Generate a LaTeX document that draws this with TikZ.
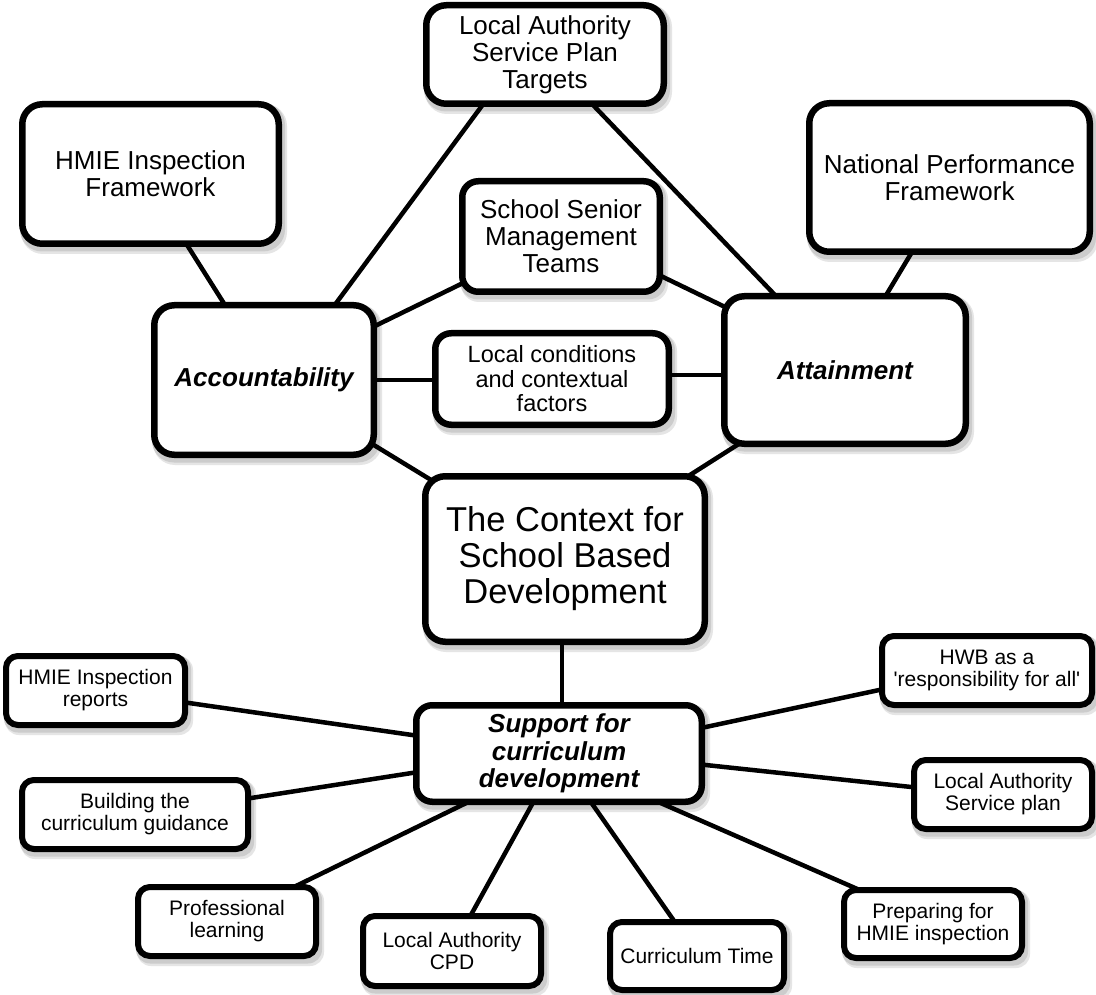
\documentclass[tikz,border=0pt]{standalone}
\usepackage{fontspec}
\newfontfamily\diagfont{Liberation Sans}
\usetikzlibrary{calc}
\pgfdeclarelayer{shadowlayer}
\pgfdeclarelayer{linelayer}
\pgfsetlayers{shadowlayer,linelayer,main}

\tikzset{
  box/.style={draw=black, fill=white, line width=6.5pt, inner sep=0pt, align=center},
  bigbox/.style={box, rounded corners=20pt},
  midbox/.style={box, rounded corners=16pt},
  smallbox/.style={box, line width=6pt, rounded corners=12pt},
  fbig/.style={font=\diagfont\fontsize{26}{27}\selectfont},
  fmid/.style={font=\diagfont\fontsize{23.5}{24.5}\selectfont},
  fsmall/.style={font=\diagfont\fontsize{21}{22}\selectfont},
  fhuge/.style={font=\diagfont\fontsize{34.5}{36}\selectfont},
  fkey/.style={font=\diagfont\bfseries\itshape\fontsize{26}{27.5}\selectfont},
  conn/.style={draw=black, line width=4.5pt},
  shade1/.style={fill=black!10},
  shade2/.style={fill=black!20},
}

\begin{document}
\begin{tikzpicture}[x=1pt, y=-1pt]
\useasboundingbox (0,0) rectangle (1096,995);

% ---- boxes ----
\node[bigbox, fbig, minimum width=237.5pt, minimum height=98.5pt] (lat) at (545,54.5)
  {Local Authority\\Service Plan\\Targets};
\node[bigbox, fbig, minimum width=256.5pt, minimum height=139.5pt] (hfw) at (150.5,174)
  {HMIE Inspection\\Framework};
\node[bigbox, fbig, minimum width=280.5pt, minimum height=148.5pt] (npf) at (949.5,177.5)
  {National Performance\\Framework};
\node[midbox, fbig, minimum width=197.5pt, minimum height=110.5pt] (ssm) at (561,236.5)
  {School Senior\\Management\\Teams};
\node[bigbox, fkey, minimum width=219.5pt, minimum height=149.5pt] (acc) at (264,380)
  {Accountability};
\node[midbox, fmid, minimum width=233.5pt, minimum height=91.5pt] (loc) at (552,379)
  {Local conditions\\and contextual\\factors};
\node[bigbox, fkey, minimum width=241.5pt, minimum height=147.5pt] (att) at (845,370)
  {Attainment};
\node[bigbox, fhuge, minimum width=279.5pt, minimum height=165.5pt] (ctx) at (565,559)
  {The Context for\\School Based\\Development};
\node[midbox, fkey, minimum width=285.5pt, minimum height=96.5pt] (sup) at (559,753.5)
  {Support for\\curriculum\\development};
\node[smallbox, fsmall, minimum width=179pt, minimum height=69pt] (hir) at (95.5,690.5)
  {HMIE Inspection\\reports};
\node[smallbox, fsmall, minimum width=226pt, minimum height=69pt] (btc) at (135,814.5)
  {Building the\\curriculum guidance};
\node[smallbox, fsmall, minimum width=178pt, minimum height=69pt] (pl) at (227,921.5)
  {Professional\\learning};
\node[smallbox, fsmall, minimum width=178pt, minimum height=70pt] (cpd) at (452,951)
  {Local Authority\\CPD};
\node[smallbox, fsmall, minimum width=174pt, minimum height=68pt] (ct) at (697,956)
  {Curriculum Time};
\node[smallbox, fsmall, minimum width=178pt, minimum height=68pt] (prep) at (933,924)
  {Preparing for\\HMIE inspection};
\node[smallbox, fsmall, minimum width=178pt, minimum height=69pt] (lasp) at (1003,794.5)
  {Local Authority\\Service plan};
\node[smallbox, fsmall, minimum width=210pt, minimum height=69pt] (hwb) at (987,670.5)
  {HWB as a\\'responsibility for all'};

% ---- soft shadows below the boxes ----
\begin{pgfonlayer}{shadowlayer}
  \fill[white] (0,0) rectangle (1096,995);
  \foreach \n/\r in {lat/22,hfw/22,npf/22,ssm/18,acc/22,loc/18,att/22,ctx/22,sup/18,
                     hir/14,btc/14,pl/14,cpd/14,ct/14,prep/14,lasp/14,hwb/14} {
    \fill[shade1, rounded corners=\r pt] ($(\n.north west)+(2,3)$) rectangle ($(\n.south east)+(5,7)$);
    \fill[shade2, rounded corners=\r pt] ($(\n.north west)+(1,2)$) rectangle ($(\n.south east)+(3,4.5)$);
  }
\end{pgfonlayer}

% ---- connectors ----
\begin{pgfonlayer}{linelayer}
  % upper cluster
  \draw[conn] ($(hfw.south west)+(167.3,-3.2)$) -- ($(acc.north west)+(74.7,4.2)$);
  \draw[conn] ($(acc.north west)+(183,4)$) -- ($(lat.south west)+(61,-4)$);
  \draw[conn] ($(acc.north east)+(-4.5,25.2)$) -- ($(ssm.south west)+(4.5,-12.2)$);
  \draw[conn] ($(acc.east)+(-4,0)$) -- ($(loc.west)+(4,1)$);
  \draw[conn] ($(acc.south east)+(-13,-19)$) -- ($(ctx.north west)+(14,10)$);
  \draw[conn] ($(att.south west)+(25.6,-8)$) -- ($(ctx.north east)+(-30.6,10)$);
  \draw[conn] ($(lat.south west)+(168.5,-3.6)$) -- ($(att.north west)+(54.5,2.6)$);
  \draw[conn] ($(ssm.south east)+(-4.5,-20.2)$) -- ($(att.north west)+(14.8,19.2)$);
  \draw[conn] ($(loc.east)+(-4,-4)$) -- ($(att.west)+(4,5)$);
  \draw[conn] ($(npf.south west)+(105.6,-2.3)$) -- ($(att.north west)+(164.4,3.3)$);
  % centre link
  \draw[conn] ($(ctx.south)+(-3,-4)$) -- ($(sup.north)+(3,4)$);
  % lower cluster
  \draw[conn] ($(hir.east)+(-4,11.8)$) -- ($(sup.west)+(4,-17.8)$);
  \draw[conn] ($(btc.east)+(-5,-15.7)$) -- ($(sup.west)+(4,18.7)$);
  \draw[conn] ($(pl.north)+(66.5,3.2)$) -- ($(sup.south)+(-88.6,-4)$);
  \draw[conn] ($(cpd.north)+(17.6,4.4)$) -- ($(sup.south)+(-25.1,-4)$);
  \draw[conn] ($(ct.north)+(-22.1,3.1)$) -- ($(sup.south)+(31.4,-3.6)$);
  \draw[conn] ($(prep.north west)+(18.6,3)$) -- ($(sup.south east)+(-46.7,-3)$);
  \draw[conn] ($(hwb.west)+(4.9,18.5)$) -- ($(sup.east)+(-3.9,-25.5)$);
  \draw[conn] ($(lasp.west)+(5,-7)$) -- ($(sup.east)+(-4,11)$);
\end{pgfonlayer}
\end{tikzpicture}
\end{document}
